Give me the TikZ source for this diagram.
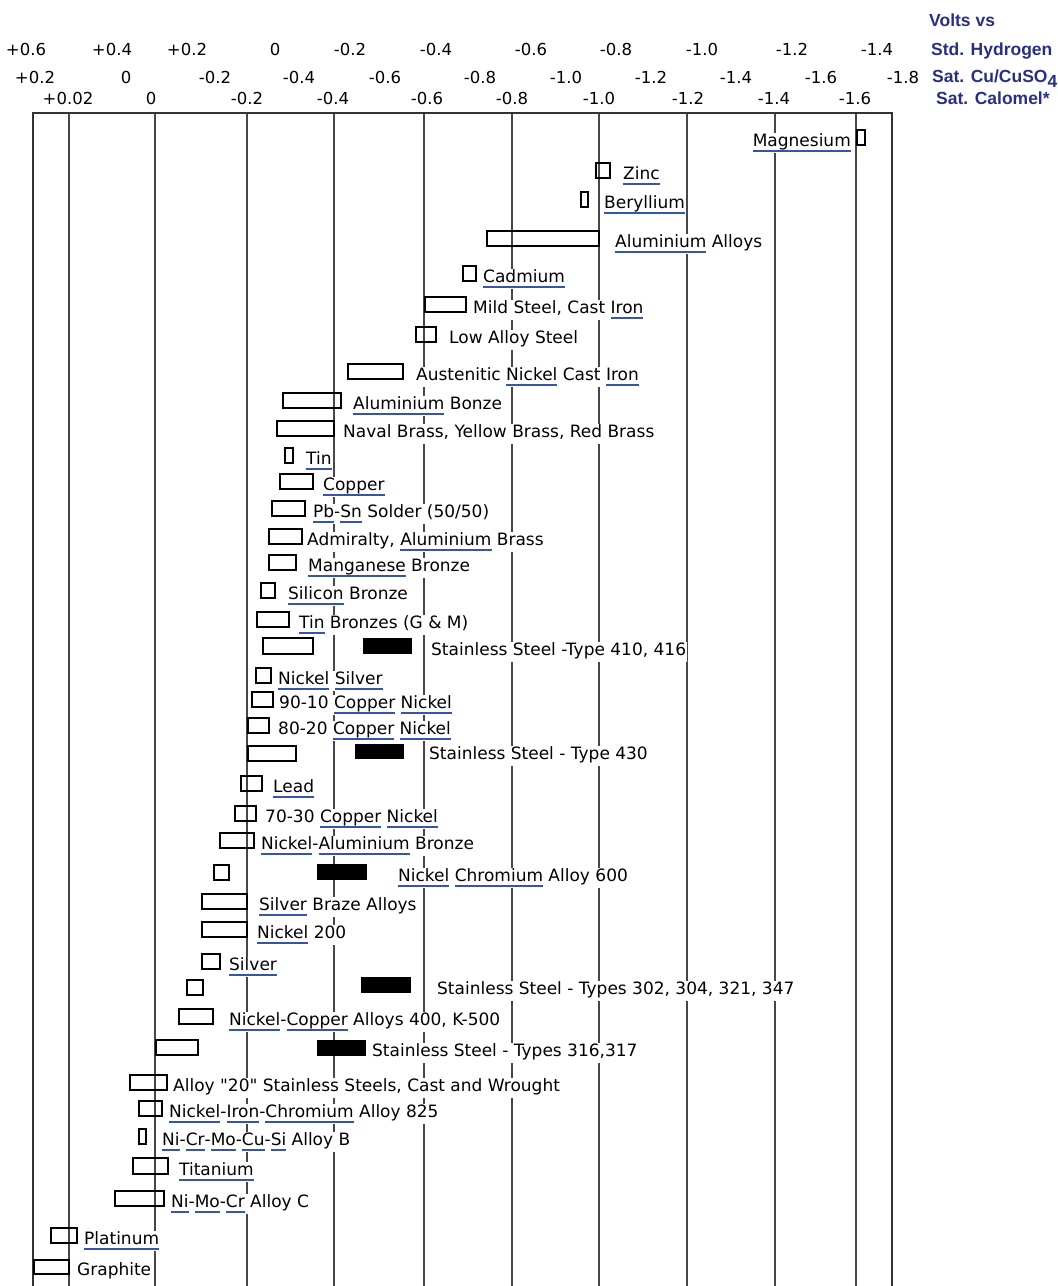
\documentclass[tikz,border=0pt]{standalone}
\usepackage{fontspec}
\setmainfont{DejaVu Sans}
\newfontfamily\bodyfont{DejaVu Sans}
\newfontfamily\hdrfont{Liberation Sans}
\usepackage{xcolor}
\definecolor{lnkblue}{RGB}{51,85,170}
\definecolor{hdrblue}{RGB}{40,48,130}
% blue link underline under one word
\newcommand\lnk[1]{\setbox0\hbox{#1}\rlap{\color{lnkblue}\rule[-6.3pt]{\wd0}{2.3pt}}\box0\relax}

\begin{document}
\begin{tikzpicture}[x=1pt, y=-1pt,
    gline/.style={black!72, line width=1.4pt},
    frame/.style={black!80, line width=1.4pt},
    bar/.style={draw=black, line width=1.3pt},
    lbl/.style={anchor=base west, fill=white, inner xsep=1pt, inner ysep=0pt,
      text height=13pt, text depth=7pt, font=\bodyfont\fontsize{17}{17}\selectfont},
    scl/.style={anchor=base, inner sep=0pt, font=\bodyfont\fontsize{16.5}{16.5}\selectfont},
    hdr/.style={anchor=base west, inner sep=0pt, text=hdrblue,
      font=\hdrfont\bfseries\fontsize{17.5}{17.5}\selectfont}]
    \fill[white] (0,0) rectangle (1058,1286);
    \useasboundingbox (0,0) rectangle (1058,1286);

    % Scales
    \foreach \x/\v in {26/+0.6, 112/+0.4, 187/+0.2, 275/0, 350/-0.2, 436/-0.4,
      531/-0.6, 616/-0.8, 702/-1.0, 792/-1.2, 877/-1.4}
    \node[scl] (she-\x) at (\x,55) {\v};
    \foreach \x/\v in {35/+0.2, 126/0, 215/-0.2, 299/-0.4, 385/-0.6, 480/-0.8,
      566/-1.0, 651/-1.2, 736/-1.4, 821/-1.6, 903/-1.8}
    \node[scl] (cuso-\x) at (\x,83) {\v};
    \foreach \x/\v in {68/+0.02, 151/0, 247/-0.2, 333/-0.4, 427/-0.6, 512/-0.8,
      599/-1.0, 688/-1.2, 774/-1.4, 855/-1.6}
    \node[scl] (sce-\x) at (\x,104) {\v};

    % Heading
    \node[hdr] (volts) at (929,26) {Volts vs};
    \node[hdr] (she) at (931,55) {Std. Hydrogen};
    \node[hdr] (cuso) at (932,82) {Sat. Cu/CuSO\raisebox{-5pt}{4}};
    \node[hdr] (sce) at (936,104) {Sat. Calomel*};

    % Grid
    \foreach \x in {69, 155, 247, 334, 424, 512, 599, 687, 775, 856}
    \draw[gline] (\x,113) -- (\x,1286);

    % Border
    \draw[frame] (33,1286) -- (33,113) -- (892,113) -- (892,1286);

    % Metals
    \node[lbl, anchor=base east] (mg) at (852,146) {\lnk{Magnesium}};
    \node[lbl] (zn) at (622,179) {\lnk{Zinc}};
    \node[lbl] (be) at (603,208) {\lnk{Beryllium}};
    \node[lbl] (al) at (614,247) {\lnk{Aluminium} Alloys};
    \node[lbl] (cd) at (482,282) {\lnk{Cadmium}};
    \node[lbl] (steel) at (472,313) {Mild Steel, Cast \lnk{Iron}};
    \node[lbl] (lowalloy) at (448,343) {Low Alloy Steel};
    \node[lbl] (niresist) at (415,380) {Austenitic \lnk{Nickel} Cast \lnk{Iron}};
    \node[lbl] (albronze) at (352,409) {\lnk{Aluminium} Bonze};
    \node[lbl] (brass) at (342,437) {Naval Brass, Yellow Brass, Red Brass};
    \node[lbl] (sn) at (305,464) {\lnk{Tin}};
    \node[lbl] (cu) at (322,490) {\lnk{Copper}};
    \node[lbl] (solder) at (312,517) {\lnk{Pb}-\lnk{Sn} Solder (50/50)};
    \node[lbl] (admiralty) at (306,545) {Admiralty, \lnk{Aluminium} Brass};
    \node[lbl] (mnbronze) at (307,571) {\lnk{Manganese} Bronze};
    \node[lbl] (sibronze) at (287,599) {\lnk{Silicon} Bronze};
    \node[lbl] (snbronze) at (298,628) {\lnk{Tin} Bronzes (G \& M)};
    \node[lbl] (ss410) at (430,655) {Stainless Steel -Type 410, 416};
    \node[lbl] (nisilver) at (277,684) {\lnk{Nickel} \lnk{Silver}};
    \node[lbl] (cuni9010) at (278,708) {90-10 \lnk{Copper} \lnk{Nickel}};
    \node[lbl] (cuni8020) at (277,734) {80-20 \lnk{Copper} \lnk{Nickel}};
    \node[lbl] (ss430) at (428,759) {Stainless Steel - Type 430};
    \node[lbl] (pb) at (272,792) {\lnk{Lead}};
    \node[lbl] (cuni7030) at (264,822) {70-30 \lnk{Copper} \lnk{Nickel}};
    \node[lbl] (nialbronze) at (260,849) {\lnk{Nickel}-\lnk{Aluminium} Bronze};
    \node[lbl] (inconel) at (397,881) {\lnk{Nickel} \lnk{Chromium} Alloy 600};
    \node[lbl] (braze) at (258,910) {\lnk{Silver} Braze Alloys};
    \node[lbl] (ni200) at (256,938) {\lnk{Nickel} 200};
    \node[lbl] (ag) at (228,970) {\lnk{Silver}};
    \node[lbl] (ss302) at (436,994) {Stainless Steel - Types 302, 304, 321, 347};
    \node[lbl] (monel) at (228,1025) {\lnk{Nickel}-\lnk{Copper} Alloys 400, K-500};
    \node[lbl] (ss316) at (371,1056) {Stainless Steel - Types 316,317};
    \node[lbl] (alloy20) at (172,1091) {Alloy "20" Stainless Steels, Cast and Wrought};
    \node[lbl] (incoloy) at (168,1117) {\lnk{Nickel}-\lnk{Iron}-\lnk{Chromium} Alloy 825};
    \node[lbl] (hastb) at (161,1145) {\lnk{Ni}-\lnk{Cr}-\lnk{Mo}-\lnk{Cu}-\lnk{Si} Alloy B};
    \node[lbl] (ti) at (178,1175) {\lnk{Titanium}};
    \node[lbl] (hastc) at (170,1207) {\lnk{Ni}-\lnk{Mo}-\lnk{Cr} Alloy C};
    \node[lbl] (pt) at (83,1244) {\lnk{Platinum}};
    \node[lbl] (graphite) at (76,1275) {Graphite};

    % Potential ranges
    \draw[bar] (857,130) rectangle (865,145); % magnesium
    \draw[bar] (596,163) rectangle (610,178); % zinc
    \draw[bar] (581,192) rectangle (588,207); % beryllium
    \draw[bar] (487,231) rectangle (599,246); % aluminium alloys
    \draw[bar] (463,266) rectangle (476,281); % cadmium
    \draw[bar] (425,297) rectangle (466,312); % mild steel
    \draw[bar] (416,327) rectangle (436,342); % low alloy steel
    \draw[bar] (348,364) rectangle (403,379); % austenitic
    \draw[bar] (283,393) rectangle (341,408); % aluminium bronze
    \draw[bar] (277,421) rectangle (334,436); % brasses
    \draw[bar] (285,448) rectangle (293,463); % tin
    \draw[bar] (280,474) rectangle (313,489); % copper
    \draw[bar] (272,501) rectangle (305,516); % solder
    \draw[bar] (269,529) rectangle (302,544); % admiralty
    \draw[bar] (269,555) rectangle (296,570); % manganese bronze
    \draw[bar] (261,583) rectangle (275,598); % silicon bronze
    \draw[bar] (257,612) rectangle (289,627); % tin bronzes
    \draw[bar] (263,638) rectangle (313,654); % ss 410
    \fill (363,638) rectangle (412,654);
    \draw[bar] (256,668) rectangle (271,683); % nickel silver
    \draw[bar] (252,692) rectangle (273,707); % 90-10
    \draw[bar] (248,718) rectangle (269,733); % 80-20
    \draw[bar] (248,746) rectangle (296,761); % ss 430
    \fill (355,744) rectangle (404,759);
    \draw[bar] (241,776) rectangle (262,791); % lead
    \draw[bar] (235,806) rectangle (256,821); % 70-30
    \draw[bar] (220,833) rectangle (254,848); % nickel-aluminium bronze
    \draw[bar] (214,865) rectangle (229,880); % alloy 600
    \fill (317,864) rectangle (367,880);
    \draw[bar] (202,894) rectangle (247,909); % silver braze
    \draw[bar] (202,922) rectangle (247,937); % nickel 200
    \draw[bar] (202,954) rectangle (220,969); % silver
    \draw[bar] (187,980) rectangle (203,995); % ss 302
    \fill (361,977) rectangle (411,993);
    \draw[bar] (179,1009) rectangle (213,1024); % 400, k-500
    \draw[bar] (156,1040) rectangle (198,1055); % ss 316
    \fill (317,1040) rectangle (366,1056);
    \draw[bar] (130,1075) rectangle (167,1090); % alloy 20
    \draw[bar] (139,1101) rectangle (162,1116); % 825
    \draw[bar] (139,1129) rectangle (146,1144); % alloy b
    \draw[bar] (133,1158) rectangle (168,1174); % titanium
    \draw[bar] (115,1191) rectangle (164,1206); % alloy c
    \draw[bar] (51,1228) rectangle (77,1243); % platinum
    \draw[bar] (34,1260) rectangle (69,1274); % graphite
\end{tikzpicture}
\end{document}
